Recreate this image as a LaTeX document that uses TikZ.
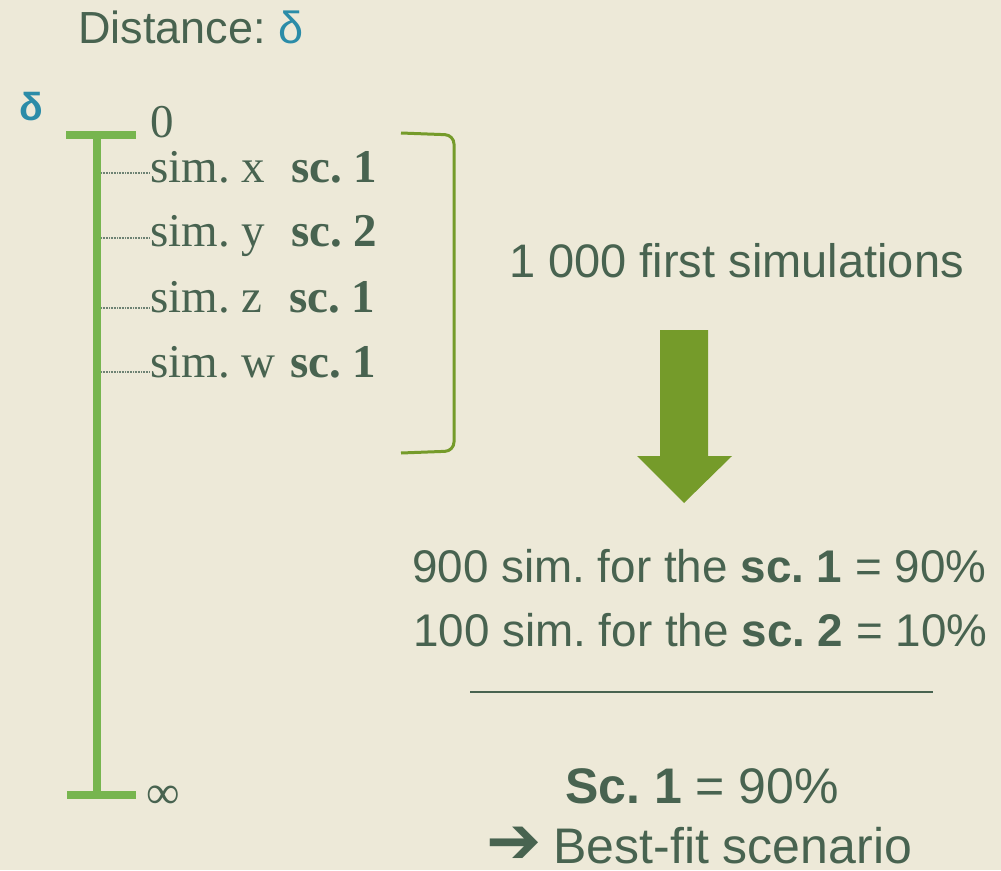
\documentclass[tikz,border=0pt]{standalone}
\usepackage{fontspec}
\setmainfont{Liberation Sans}
\newfontfamily\serifrm{Liberation Serif}
\newfontfamily\dejavu{DejaVu Sans}
\definecolor{bgc}{HTML}{EDE9D8}
\definecolor{txt}{HTML}{486350}
\definecolor{dblue}{HTML}{2B8CA8}
\definecolor{bargreen}{HTML}{77B54F}
\definecolor{olive}{HTML}{759B2A}
\frenchspacing
\tikzset{
  lbl/.style={inner sep=0pt, text=txt, font=\fontsize{45}{54}\selectfont},
  simlbl/.style={inner sep=0pt, text=txt, anchor=base west, font=\serifrm\fontsize{47}{56}\selectfont},
  bar/.style={draw=bargreen, line width=8pt},
  leader/.style={draw=txt!80, line width=1.4pt, dotted, dash pattern=on 1pt off 0.6pt},
  bracket/.style={draw=olive, line width=3pt, rounded corners=9pt},
  bigarrow/.style={fill=olive, draw=none},
  rule/.style={draw=txt, line width=2pt}
}
\begin{document}
\frenchspacing
\begin{tikzpicture}[x=1pt, y=-1pt]
\useasboundingbox (0,0) rectangle (1001,870);
\fill[bgc] (0,0) rectangle (1001,870);

% title
\node[lbl, anchor=base west] (title) at (78,43) {Distance: \textcolor{dblue}{δ}};
\node[lbl, anchor=base west, text=dblue, font=\bfseries\fontsize{39}{46}\selectfont] (dleft) at (19,120) {δ};

% scale bar
\coordinate (bartop) at (97,131);
\coordinate (barbot) at (97,799);
\draw[bar] (bartop) -- (barbot);
\draw[bar] (66,135) -- (136,135);
\draw[bar] (67,795) -- (136,795);
\node[simlbl] (zero) at (150,137) {0};
\node[simlbl] (inf) at (146,808) {∞};

% simulations
\node[simlbl] (sx) at (150,182) {\makebox[141pt][l]{sim. x}\textbf{sc. 1}};
\node[simlbl] (sy) at (150,246) {\makebox[141pt][l]{sim. y}\textbf{sc. 2}};
\node[simlbl] (sz) at (150,312) {\makebox[139pt][l]{sim. z}\textbf{sc. 1}};
\node[simlbl] (sw) at (150,377) {\makebox[140pt][l]{sim. w}\textbf{sc. 1}};
\foreach \n/\yy in {sx/173, sy/238, sz/308, sw/372}{
  \coordinate (b\n) at (101,\yy);
  \draw[leader] (b\n) -- (\n.west |- b\n);
}

% bracket
\draw[bracket] (401,133) -- (454,135) -- (454,451) -- (401,453);

% right side text
\node[lbl, anchor=base west, font=\fontsize{47}{56}\selectfont] (first) at (509,277) {1 000 first simulations};
\draw[bigarrow] (660,330) -- (708,330) -- (708,456) -- (732,456) -- (684,503) -- (637,456) -- (660,456) -- cycle;
\node[lbl, anchor=base west, font=\fontsize{45.8}{54}\selectfont] (r1) at (412,582) {900 sim. for the \textbf{sc. 1} = 90\%};
\node[lbl, anchor=base west, font=\fontsize{45.8}{54}\selectfont] (r2) at (413,646) {100 sim. for the \textbf{sc. 2} = 10\%};
\draw[rule] (470,692) -- (933,692);
\node[lbl, anchor=base west, font=\fontsize{50}{60}\selectfont] (res) at (565,803) {\textbf{Sc. 1} = 90\%};
\node[lbl, anchor=base west, font=\fontsize{50}{60}\selectfont] (best) at (486,863) {{\dejavu\fontsize{66}{70}\selectfont ➔}\hspace{12pt}Best-fit scenario};
\end{tikzpicture}
\end{document}
